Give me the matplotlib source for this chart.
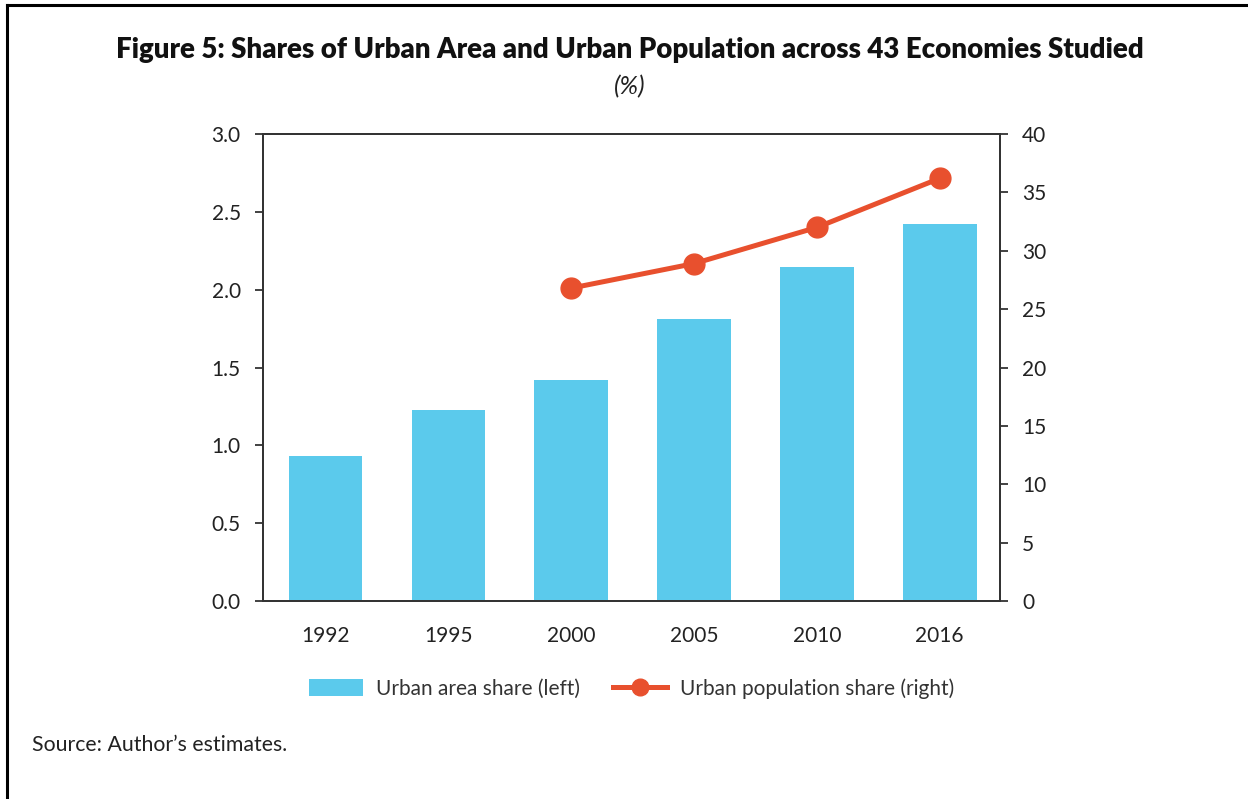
import matplotlib
matplotlib.use("Agg")
from matplotlib import pyplot as plt
from matplotlib.lines import Line2D

years = ['1992', '1995', '2000', '2005', '2010', '2016']
area_share = [0.93, 1.23, 1.42, 1.81, 2.145, 2.42]
pop_years = ['2000', '2005', '2010', '2016']
pop_share = [26.8, 28.9, 32.0, 36.2]

bar_color = '#5BCAEC'
line_color = '#E8502E'
txt = '#222222'

plt.rcParams['font.family'] = ['Lato', 'DejaVu Sans']

fig = plt.figure(figsize=(12.48, 7.99), dpi=100)
ax = fig.add_axes([0.2107, 0.2478, 0.5905, 0.5845])
ax2 = ax.twinx()

x = list(range(len(years)))
bars = ax.bar(x, area_share, width=0.6, color=bar_color, zorder=2)
px = [years.index(y) for y in pop_years]
ln, = ax2.plot(px, pop_share, color=line_color, lw=3.6, marker='o', ms=15, zorder=3)

ax.set_xlim(-0.51, 5.49)
ax.set_ylim(0, 3.0)
ax.set_yticks([0, 0.5, 1.0, 1.5, 2.0, 2.5, 3.0])
ax.set_yticklabels(['0.0', '0.5', '1.0', '1.5', '2.0', '2.5', '3.0'])
ax2.set_ylim(0, 40)
ax2.set_yticks(range(0, 41, 5))
ax.set_xticks(x)
ax.set_xticklabels(years)

for a in (ax, ax2):
    for s in a.spines.values():
        s.set_color('#333333')
        s.set_linewidth(1.3)
    a.tick_params(colors='#333333', labelcolor=txt, labelsize=15, width=1.3, length=6)
ax.tick_params(axis='x', length=0, pad=18)
ax.tick_params(axis='y', pad=10)
ax2.tick_params(axis='y', pad=10)

fig.text(0.505, 0.937, 'Figure 5: Shares of Urban Area and Urban Population across 43 Economies Studied',
         ha='center', va='center', fontsize=19.9, fontweight='heavy', color='#111111')
fig.text(0.505, 0.891, '(%)', ha='center', va='center', fontsize=18, style='italic', color=txt)

fig.legend([bars, ln], ['Urban area share (left)', 'Urban population share (right)'],
           loc='center', bbox_to_anchor=(0.506, 0.138), ncol=2, frameon=False,
           fontsize=15, handlelength=2.6, handleheight=0.9, columnspacing=1.6,
           handletextpad=0.6, markerscale=0.8, labelcolor='#333333')

fig.text(0.026, 0.067, 'Source: Author\u2019s estimates.', ha='left', va='center', fontsize=15.3, color=txt)

# frame on left and top
fig.add_artist(Line2D([0.0056, 0.0056], [0, 0.9937], transform=fig.transFigure, color='black', lw=2.2))
fig.add_artist(Line2D([0.0056, 1.0], [0.9937, 0.9937], transform=fig.transFigure, color='black', lw=2.2))

fig.savefig('out.png', dpi=100)
